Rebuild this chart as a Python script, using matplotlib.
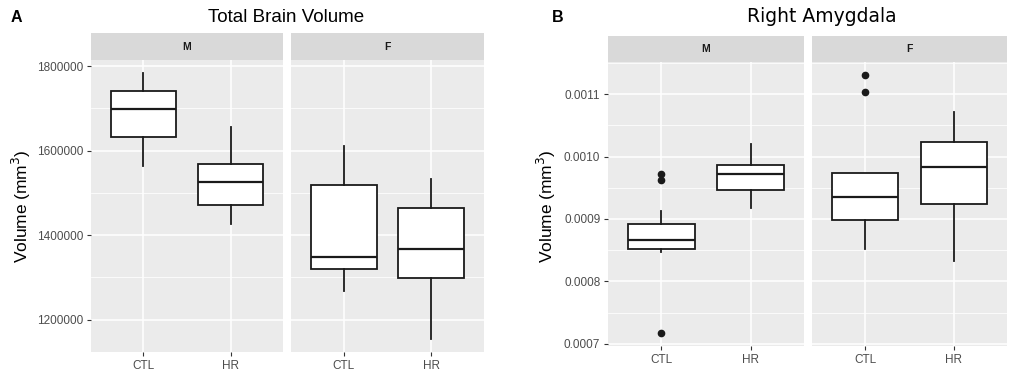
import matplotlib
matplotlib.use("Agg")
import matplotlib.pyplot as plt
from matplotlib.ticker import MultipleLocator, FormatStrFormatter
import numpy as np

plt.rcParams['font.family'] = ['Liberation Sans', 'DejaVu Sans']

# ---------------- data ----------------
groups = ["CTL", "HR"]
sexes = ["M", "F"]

# five-number summaries: whisker low, Q1, median, Q3, whisker high
tbv_M_CTL = [1564000, 1632000, 1699000, 1740000, 1783000]
tbv_M_HR = [1427000, 1472000, 1526000, 1568000, 1657000]
tbv_F_CTL = [1267000, 1321000, 1348000, 1519000, 1610000]
tbv_F_HR = [1155000, 1299000, 1368000, 1464000, 1533000]
tbv_fliers_M_CTL = []
tbv_fliers_M_HR = []
tbv_fliers_F_CTL = []
tbv_fliers_F_HR = []

amy_M_CTL = [0.000847, 0.000852, 0.000866, 0.000892, 0.000912]
amy_M_HR = [0.000918, 0.000947, 0.000972, 0.000987, 0.001021]
amy_F_CTL = [0.000852, 0.000898, 0.000936, 0.000974, 0.000974]
amy_F_HR = [0.000832, 0.000924, 0.000984, 0.001024, 0.001072]
amy_fliers_M_CTL = [0.000972, 0.000963, 0.000717]
amy_fliers_M_HR = []
amy_fliers_F_CTL = [0.001131, 0.001103]
amy_fliers_F_HR = []

tbv_ticks = [1200000, 1400000, 1600000, 1800000]
amy_ticks = [0.0007, 0.0008, 0.0009, 0.0010, 0.0011]

panels = [
    dict(letter="A", title="Total Brain Volume",
         stats={"M": [tbv_M_CTL, tbv_M_HR], "F": [tbv_F_CTL, tbv_F_HR]},
         fliers={"M": [tbv_fliers_M_CTL, tbv_fliers_M_HR], "F": [tbv_fliers_F_CTL, tbv_fliers_F_HR]},
         ticks=tbv_ticks, minor=100000, fmt="%d",
         px=[(91, 283), (291, 484)], py=(60, 352), strip=33,
         title_x=286, letter_x=11, ylab_x=21, title_font=['Liberation Sans', 'DejaVu Sans'],
         title_size=13.5),
    dict(letter="B", title="Right Amygdala",
         stats={"M": [amy_M_CTL, amy_M_HR], "F": [amy_F_CTL, amy_F_HR]},
         fliers={"M": [amy_fliers_M_CTL, amy_fliers_M_HR], "F": [amy_fliers_F_CTL, amy_fliers_F_HR]},
         ticks=amy_ticks, minor=0.00005, fmt="%.4f",
         px=[(608, 804), (812, 1007)], py=(62, 346), strip=36,
         title_x=822, letter_x=552, ylab_x=546, title_font=['DejaVu Sans'],
         title_size=13.5),
]

W, H = 1012, 377
fig = plt.figure(figsize=(W / 100, H / 100), dpi=100)


def rect(x0, y0, x1, y1):
    return [x0 / W, 1 - y1 / H, (x1 - x0) / W, (y1 - y0) / H]


BG = "#EBEBEB"
STRIP = "#D9D9D9"

for p in panels:
    allv = []
    for s in sexes:
        for st, fl in zip(p["stats"][s], p["fliers"][s]):
            allv += list(st) + list(fl)
    lo, hi = min(allv), max(allv)
    pad = 0.05 * (hi - lo)
    ylim = (lo - pad, hi + pad)

    for i, s in enumerate(sexes):
        x0, x1 = p["px"][i]
        y0, y1 = p["py"]
        ax = fig.add_axes(rect(x0, y0, x1, y1))
        ax.set_facecolor(BG)
        for sp in ax.spines.values():
            sp.set_visible(False)
        bxstats = []
        for g, st, fl in zip(groups, p["stats"][s], p["fliers"][s]):
            bxstats.append(dict(whislo=st[0], q1=st[1], med=st[2], q3=st[3],
                                whishi=st[4], fliers=fl, label=g))
        ax.bxp(bxstats, positions=[1, 2], widths=0.75, patch_artist=True,
               showcaps=False,
               boxprops=dict(facecolor="white", edgecolor="#1A1A1A", linewidth=1.3),
               medianprops=dict(color="#1A1A1A", linewidth=1.6),
               whiskerprops=dict(color="#1A1A1A", linewidth=1.3),
               flierprops=dict(marker="o", markerfacecolor="#1A1A1A",
                               markeredgecolor="#1A1A1A", markersize=4.5))
        ax.set_xlim(0.4, 2.6)
        ax.set_ylim(*ylim)
        ax.set_xticks([1, 2])
        ax.set_xticklabels(groups)
        ax.set_yticks(p["ticks"])
        ax.yaxis.set_minor_locator(MultipleLocator(p["minor"]))
        ax.yaxis.set_major_formatter(FormatStrFormatter(p["fmt"]))
        ax.grid(True, which="major", color="white", linewidth=1.1)
        ax.grid(True, which="minor", axis="y", color="white", linewidth=0.55)
        ax.set_axisbelow(True)
        ax.tick_params(axis="both", which="major", length=3, width=0.8,
                       color="#333333", labelcolor="#4D4D4D", labelsize=8.5, pad=2.5)
        ax.tick_params(axis="y", which="minor", length=0)
        if i == 1:
            ax.tick_params(axis="y", which="major", left=False, labelleft=False)
        # strip
        sax = fig.add_axes(rect(x0, p["strip"], x1, y0))
        sax.set_facecolor(STRIP)
        sax.set_xticks([])
        sax.set_yticks([])
        for sp in sax.spines.values():
            sp.set_visible(False)
        sax.text(0.5, 0.5, s, ha="center", va="center", fontsize=7.5,
                 fontweight="bold", color="#1A1A1A", transform=sax.transAxes)

    fig.text(p["title_x"] / W, 1 - 17 / H, p["title"], ha="center", va="center",
             fontsize=p["title_size"], color="black", family=p["title_font"])
    fig.text(p["letter_x"] / W, 1 - 17 / H, p["letter"], ha="left", va="center",
             fontsize=11.5, fontweight="bold", color="black")
    ymid = 206
    fig.text(p["ylab_x"] / W, 1 - ymid / H, r"Volume (mm$^{3}$)", rotation=90,
             ha="center", va="center", fontsize=12.5, color="black")

fig.savefig("out.png", dpi=100)
